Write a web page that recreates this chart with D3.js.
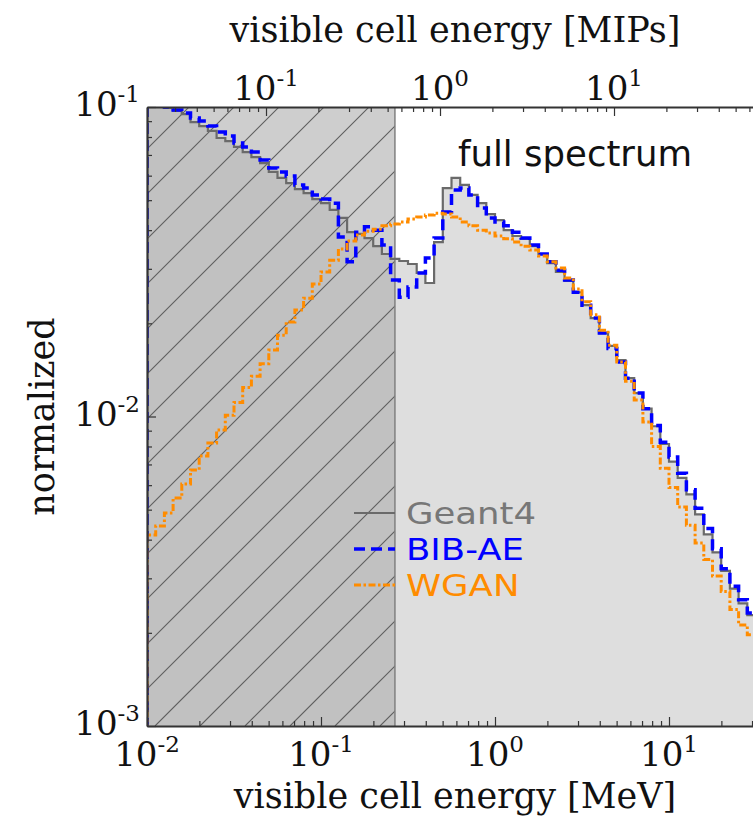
<!DOCTYPE html>
<html><head><meta charset="utf-8">
<script src="https://cdn.jsdelivr.net/npm/d3@7"></script>
<style>body{margin:0;background:#fff}svg{display:block;overflow:hidden}</style>
</head><body><svg id="c" width="753" height="816"></svg>
<script>
// ---- data ----
const binsPerDecade = 20;      // log-spaced histogram bins
const binStartExp = -2;        // first bin edge = 10^-2 MeV
const geant4 = [0.105,0.103,0.0993,0.0971,0.0949,0.0894,0.0868,0.0837,0.0794,0.0776,
  0.0743,0.0715,0.0689,0.0659,0.0617,0.0590,0.0568,0.0543,0.0527,0.0504,
  0.0489,0.0465,0.0438,0.0394,0.0389,0.0377,0.0355,0.0335,0.0323,0.0318,
  0.0311,0.0291,0.0270,0.0366,0.0547,0.0590,0.0560,0.0520,0.0489,0.0451,
  0.0431,0.0400,0.0383,0.0375,0.0355,0.0335,0.0313,0.0293,0.0274,0.0252,
  0.0229,0.0208,0.0186,0.0169,0.0152,0.0133,0.0119,0.0106,0.00930,0.00815,
  0.00715,0.00633,0.00560,0.00483,0.00416,0.00364,0.00317,0.00278,0.00249,0.00228];
const bibae = [0.105,0.1023,0.100,0.0978,0.0956,0.0921,0.0901,0.0868,0.0830,0.0806,
  0.0765,0.0743,0.0715,0.0674,0.0635,0.0617,0.0598,0.0560,0.0547,0.0520,
  0.0504,0.0489,0.0380,0.0316,0.0394,0.0410,0.0400,0.0358,0.0276,0.0243,
  0.0262,0.0291,0.0325,0.0377,0.0458,0.0539,0.0547,0.0520,0.0472,0.0438,
  0.0425,0.0413,0.0394,0.0377,0.0358,0.0335,0.0316,0.0297,0.0276,0.0252,
  0.0229,0.0208,0.0186,0.0166,0.0150,0.0133,0.0119,0.0106,0.00935,0.00825,
  0.00740,0.00655,0.00580,0.00505,0.00435,0.00374,0.00322,0.00283,0.00256,0.00232];
const wgan = [0.00414,0.00443,0.00488,0.00545,0.00605,0.00672,0.00745,0.00821,0.00904,0.0101,
  0.0111,0.0124,0.0135,0.0148,0.0164,0.0183,0.0202,0.0221,0.0241,0.0268,
  0.0293,0.0320,0.0348,0.0369,0.0386,0.0397,0.0403,0.0413,0.0419,0.0425,
  0.0435,0.0441,0.0448,0.0454,0.0451,0.0441,0.0425,0.0413,0.0400,0.0392,
  0.0383,0.0375,0.0366,0.0355,0.0345,0.0330,0.0316,0.0302,0.0280,0.0258,
  0.0235,0.0213,0.0190,0.0170,0.0150,0.0130,0.0113,0.00960,0.00800,0.00680,
  0.00590,0.00510,0.00445,0.00390,0.00345,0.00305,0.00272,0.00238,0.00212,0.00197];
const seriesNames = ["Geant4", "BIB-AE", "WGAN"];
const xTickExps = [-2, -1, 0, 1];
const mipTickExps = [-1, 0, 1];
const yTickExps = [-3, -2, -1];
const mipInMeV = 0.483;
const thresholdMeV = 0.266;

// ---- layout ----
const m = {l:147, t:107, r:763, b:726};
const decadePx = 174;
const x = d3.scaleLog().domain([1e-2, Math.pow(10, -2 + (m.r - m.l) / decadePx)]).range([m.l, m.r]);
const xm = d3.scaleLog().domain(x.domain().map(v => v / mipInMeV)).range([m.l, m.r]);
const y = d3.scaleLog().domain([1e-3, 1e-1]).range([m.b, m.t]);

const svg = d3.select("#c");
svg.append("defs").append("clipPath").attr("id","pc")
  .append("rect").attr("x",m.l).attr("y",m.t).attr("width",m.r-m.l).attr("height",m.b-m.t);
const g = svg.append("g").attr("clip-path","url(#pc)");

const edges = d3.range(geant4.length + 1).map(k => Math.pow(10, binStartExp + k / binsPerDecade));
function stepPts(vals){
  const pts = [[x(edges[0]), m.b + 20]];
  vals.forEach((v,i) => { pts.push([x(edges[i]), y(v)]); pts.push([x(edges[i+1]), y(v)]); });
  pts.push([x(edges[vals.length]), m.b + 20]);
  return pts;
}
const line = d3.line();

// Geant4 filled histogram
g.append("path").attr("d", line(stepPts(geant4)) + "Z").attr("fill", "#dedede").attr("stroke","none");

// threshold shaded/hatched region
const xt = x(thresholdMeV);
g.append("rect").attr("x", m.l).attr("y", m.t).attr("width", xt - m.l).attr("height", m.b - m.t)
  .attr("fill", "#b0b0b0").attr("fill-opacity", 0.62);
svg.append("clipPath").attr("id","hc").append("rect")
  .attr("x", m.l).attr("y", m.t).attr("width", xt - m.l).attr("height", m.b - m.t);
const hg = g.append("g").attr("clip-path","url(#hc)");
const slope = 1.0;
for (let c = m.l - 700; c < xt + 10; c += 45) {
  hg.append("line").attr("x1", c - 12).attr("y1", m.b).attr("x2", c - 12 + 700 / slope).attr("y2", m.b - 700)
    .attr("stroke", "#5e5e5e").attr("stroke-width", 1.1);
}
g.append("line").attr("x1", xt).attr("x2", xt).attr("y1", m.t).attr("y2", m.b)
  .attr("stroke", "#808080").attr("stroke-width", 1.5);

// series lines
const styles = [
  {data: geant4, color: "#6a6a6a", w: 2.2, dash: null, text: "#777777"},
  {data: bibae, color: "#0000ff", w: 3.5, dash: "11,6", text: "#0000ff"},
  {data: wgan, color: "#ff8c00", w: 3, dash: "7,2.5,2.5,2.5", text: "#ff8c00"}
];
styles.forEach(s => {
  g.append("path").attr("d", line(stepPts(s.data))).attr("fill","none")
    .attr("stroke", s.color).attr("stroke-width", s.w)
    .attr("stroke-dasharray", s.dash).attr("stroke-linejoin","miter");
});

// ---- axes ----
const serif = "'DejaVu Serif', serif";
const sans = "'DejaVu Sans', sans-serif";
const minor = (sc) => { const [a,b] = sc.domain(); const out=[];
  for (let e = Math.floor(Math.log10(a)); e <= Math.ceil(Math.log10(b)); e++)
    for (let j = 2; j <= 9; j++) { const v = j * Math.pow(10, e); if (v > a && v < b) out.push(v); }
  return out; };
function styleAxis(sel){ sel.select(".domain").attr("stroke","#333").attr("stroke-width",2.2);
  sel.selectAll(".tick line").attr("stroke","#333").attr("stroke-width",1.2); sel.selectAll("text").remove(); }

const majX = xTickExps.map(e => Math.pow(10, e));
svg.append("g").attr("transform", `translate(0,${m.b})`)
  .call(d3.axisBottom(x).tickValues(majX).tickSize(-9).tickSizeOuter(0)).call(styleAxis);
svg.append("g").attr("transform", `translate(0,${m.b})`)
  .call(d3.axisBottom(x).tickValues(minor(x)).tickSize(-5).tickSizeOuter(0)).call(styleAxis)
  .select(".domain").remove();
const majM = mipTickExps.map(e => Math.pow(10, e));
svg.append("g").attr("transform", `translate(0,${m.t})`)
  .call(d3.axisTop(xm).tickValues(majM).tickSize(-9).tickSizeOuter(0)).call(styleAxis);
svg.append("g").attr("transform", `translate(0,${m.t})`)
  .call(d3.axisTop(xm).tickValues(minor(xm)).tickSize(-5).tickSizeOuter(0)).call(styleAxis)
  .select(".domain").remove();
const majY = yTickExps.map(e => Math.pow(10, e));
svg.append("g").attr("transform", `translate(${m.l},0)`)
  .call(d3.axisLeft(y).tickValues(majY).tickSize(-9).tickSizeOuter(0)).call(styleAxis);
svg.append("g").attr("transform", `translate(${m.l},0)`)
  .call(d3.axisLeft(y).tickValues(minor(y)).tickSize(-5).tickSizeOuter(0)).call(styleAxis)
  .select(".domain").remove();

function powLabel(px, py, exp, anchor){
  const t = svg.append("text").attr("x", px).attr("y", py).attr("text-anchor", anchor)
    .attr("font-family", serif).attr("font-size", 34).attr("fill", "#111");
  t.append("tspan").text("10");
  t.append("tspan").attr("dy", -14).attr("font-size", 23).text(String(exp));
}
xTickExps.forEach(e => powLabel(x(Math.pow(10,e)), 766, e, "middle"));
mipTickExps.forEach(e => powLabel(xm(Math.pow(10,e)), 100, e, "middle"));
yTickExps.forEach(e => powLabel(m.l - 7, y(Math.pow(10,e)) + 9, e, "end"));

svg.append("text").attr("x", 455).attr("y", 808).attr("text-anchor","middle")
  .attr("font-family", serif).attr("font-size", 35).attr("fill","#111").text("visible cell energy [MeV]");
svg.append("text").attr("x", 455).attr("y", 42).attr("text-anchor","middle")
  .attr("font-family", serif).attr("font-size", 35).attr("fill","#111").text("visible cell energy [MIPs]");
svg.append("text").attr("transform", `translate(54,${(m.t+m.b)/2}) rotate(-90)`).attr("text-anchor","middle")
  .attr("font-family", serif).attr("font-size", 35).attr("fill","#111").text("normalized");

svg.append("text").attr("x", 575).attr("y", 166).attr("text-anchor","middle")
  .attr("font-family", sans).attr("font-size", 35.5).attr("fill","#111").text("full spectrum");

// legend
const lg = svg.append("g");
const legFont = 30.5, legTarget = 35.5;
styles.forEach((s, i) => {
  const cy = 513 + i * 36;
  lg.append("line").attr("x1", 354).attr("x2", 395).attr("y1", cy).attr("y2", cy)
    .attr("stroke", s.color).attr("stroke-width", s.w).attr("stroke-dasharray", s.dash);
  const t = lg.append("text").attr("x", 406).attr("y", cy + 11).attr("font-family", sans).attr("font-size", legFont)
    .attr("fill", s.text).text(seriesNames[i]);
  const w = t.node().getComputedTextLength();
  t.attr("textLength", w * legTarget / legFont).attr("lengthAdjust", "spacingAndGlyphs");
});
</script></body></html>
